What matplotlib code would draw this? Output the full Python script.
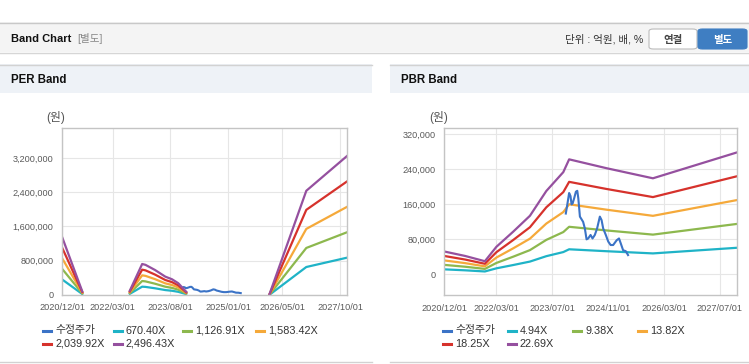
import matplotlib.pyplot as plt
import numpy as np
from matplotlib.patches import Rectangle, FancyBboxPatch
from matplotlib.lines import Line2D

plt.rcParams['font.family'] = ['Liberation Sans', 'Noto Sans CJK KR']

W, H = 749, 364

# ---- data ----
price_dates = np.array([
    '2023-10-27', '2023-11-08', '2023-11-25', '2023-12-07', '2023-12-16', '2023-12-25',
    '2024-01-08', '2024-01-23', '2024-02-04', '2024-02-13', '2024-02-27', '2024-03-26',
    '2024-04-10', '2024-04-25', '2024-05-09', '2024-05-30', '2024-06-16', '2024-07-06',
    '2024-07-26', '2024-08-19', '2024-09-03', '2024-09-17', '2024-10-10', '2024-10-31',
    '2024-11-21', '2024-12-13', '2025-01-13', '2025-02-02', '2025-02-17', '2025-03-10',
    '2025-04-02', '2025-04-22'], dtype='datetime64[D]')
price = [139000, 158000, 186000, 179000, 160000, 162000,
         174000, 189000, 191000, 174000, 132000, 120000,
         105000, 80000, 82000, 90000, 82000, 90000,
         105000, 132000, 124000, 105000, 90000, 75000,
         67000, 67000, 78000, 82000, 71000, 55000,
         53000, 44000]

# EPS used for PER band (gaps = not drawn)
eps_dates = np.array([
    '2020-12-01', '2021-06-01', '2022-01-01',
    '2022-08-01', '2022-11-20', '2022-12-20', '2023-03-15', '2023-06-15',
    '2023-08-15', '2023-10-10', '2023-12-20', '2025-06-01',
    '2026-01-05', '2026-12-01', '2027-12-01'], dtype='datetime64[D]')
eps = np.array([545, 33, np.nan,
                40, 290, 282, 234, 172,
                147, 110, 30, np.nan,
                8, 975, 1300])
per_mults = [670.40, 1126.91, 1583.42, 2039.92, 2496.43]
per_labels = ['670.40X', '1,126.91X', '1,583.42X', '2,039.92X', '2,496.43X']

# BPS used for PBR band
bps_dates = np.array([
    '2020-12-01', '2021-06-01', '2021-11-20', '2022-03-01', '2022-07-25',
    '2022-12-18', '2023-05-10', '2023-10-05', '2023-11-25', '2024-10-15',
    '2025-11-25', '2027-12-01'], dtype='datetime64[D]')
bps = np.array([2300, 1850, 1320, 2780, 4300,
                5900, 8400, 10300, 11590, 10700,
                9680, 12300])
pbr_mults = [4.94, 9.38, 13.82, 18.25, 22.69]
pbr_labels = ['4.94X', '9.38X', '13.82X', '18.25X', '22.69X']

per_xticks = ['2020-12-01', '2022-03-01', '2023-08-01', '2025-01-01', '2026-05-01', '2027-10-01']
pbr_xticks = ['2020-12-01', '2022-03-01', '2023-07-01', '2024-11-01', '2026-03-01', '2027-07-01']
per_yticks = [0, 800000, 1600000, 2400000, 3200000]
pbr_yticks = [0, 80000, 160000, 240000, 320000]

price_color = '#3b73c6'
band_colors = ['#1fb3c7', '#8db84e', '#f5a93a', '#d6322c', '#95509f']


def fx(x):
    return x / W


def fy(y):
    return 1 - y / H


fig = plt.figure(figsize=(W / 100, H / 100), dpi=100)
fig.patch.set_facecolor('white')


def box(x0, y0, x1, y1, **kw):
    fig.add_artist(Rectangle((fx(x0), fy(y1)), (x1 - x0) / W, (y1 - y0) / H,
                             transform=fig.transFigure, **kw))


def hline(x0, x1, y, color, lw=1.0):
    fig.add_artist(Line2D([fx(x0), fx(x1)], [fy(y), fy(y)],
                          transform=fig.transFigure, color=color, lw=lw))


# top header bar
box(0, 22, 749, 52, fc='#f4f4f4', ec='none')
hline(0, 749, 22.5, '#c8c8c8')
hline(0, 749, 52.5, '#d6d6d6')
fig.text(fx(11), fy(39), 'Band Chart', fontsize=8.0, weight='bold', color='#111', va='center')
fig.text(fx(77), fy(39), '[별도]', fontsize=7.6, color='#888888', va='center')
fig.text(fx(643), fy(39), '단위 : 억원, 배, %', fontsize=7.6, color='#333333', va='center', ha='right')
for x0, x1, fc, ec, tc, txt in [(649, 697, 'white', '#bcbcbc', '#444444', '연결'),
                                (698, 747, '#3f7ec2', '#3f7ec2', 'white', '별도')]:
    fig.add_artist(FancyBboxPatch((fx(x0), fy(49)), (x1 - x0) / W, 20 / H,
                                  boxstyle='round,pad=0,rounding_size=0.006',
                                  transform=fig.transFigure, fc=fc, ec=ec, lw=0.8))
    fig.text(fx((x0 + x1) / 2), fy(39.5), txt,
             fontsize=7.5, weight='bold', color=tc, ha='center', va='center')

# panel headers
for x0, x1, title in [(0, 372, 'PER Band'), (390, 749, 'PBR Band')]:
    box(x0, 64, x1, 93, fc='#eef2f7', ec='none')
    hline(x0, x1, 64.5, '#d2d2d2')
    hline(x0, x1, 361.5, '#d2d2d2')
    fig.text(fx(x0 + 11), fy(80), title, fontsize=8.3, weight='bold', color='#111', va='center')


def style_axes(ax, xticks, yticks, ylim):
    ax.set_xlim(np.datetime64('2020-12-01'), np.datetime64('2027-12-01'))
    ax.set_ylim(*ylim)
    xt = np.array(xticks, dtype='datetime64[D]')
    ax.set_xticks(xt)
    ax.set_xticklabels([t.replace('-', '/') for t in xticks])
    ax.set_yticks(yticks)
    ax.set_yticklabels(['{:,}'.format(v) for v in yticks])
    ax.grid(True, color='#e6e6e6', lw=0.8)
    ax.set_axisbelow(True)
    for s in ax.spines.values():
        s.set_color('#c4c4c4')
        s.set_linewidth(1)
    ax.tick_params(length=0, labelsize=6.6, colors='#5a5a5a')
    ax.tick_params(axis='x', pad=6)
    ax.tick_params(axis='y', pad=6)


def px_axes(x0, y0, x1, y1):
    return fig.add_axes([fx(x0), fy(y1), (x1 - x0) / W, (y1 - y0) / H])


# PER band
ax1 = px_axes(62, 128, 347, 295)
ax1.plot(price_dates, price, color=price_color, lw=1.5)
for m, c in zip(per_mults, band_colors):
    ax1.plot(eps_dates, eps * m, color=c, lw=1.6)
style_axes(ax1, per_xticks, per_yticks, (0, 3.9e6))
fig.text(fx(46), fy(118), '(원)', fontsize=8.5, color='#555555', va='center')

# PBR band
ax2 = px_axes(444.3, 128.3, 737.3, 295.3)
for m, c in zip(pbr_mults, band_colors):
    ax2.plot(bps_dates, bps * m, color=c, lw=1.6)
ax2.plot(price_dates, price, color=price_color, lw=1.5)
style_axes(ax2, pbr_xticks, pbr_yticks, (-48000, 334000))
fig.text(fx(429), fy(118), '(원)', fontsize=8.5, color='#555555', va='center')

# legends, laid out like the page (two rows)
legend_slots = {
    'per': [(43, 330.5), (114, 330.5), (183, 330.5), (256, 330.5), (43, 344), (114, 344)],
    'pbr': [(443, 330.5), (508, 330.5), (573, 330.5), (638, 330.5), (443, 344), (508, 344)],
}
for key, labels in [('per', per_labels), ('pbr', pbr_labels)]:
    items = [('수정주가', price_color)] + list(zip(labels, band_colors))
    for (lx, ly), (lab, c) in zip(legend_slots[key], items):
        fig.add_artist(Line2D([fx(lx), fx(lx + 8)], [fy(ly), fy(ly)],
                              transform=fig.transFigure, color=c, lw=2.2))
        fig.text(fx(lx + 12), fy(ly), lab, fontsize=7.8, color='#333333',
                 va='center', ha='left')

fig.savefig('out.png', dpi=100)
